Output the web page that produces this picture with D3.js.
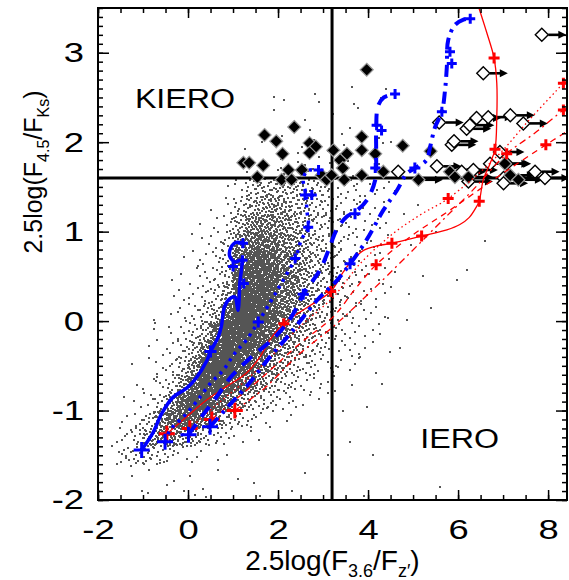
<!DOCTYPE html>
<html><head><meta charset="utf-8">
<script src="https://cdn.jsdelivr.net/npm/d3@7"></script>
<style>body{margin:0;background:#fff}svg{display:block}</style>
</head><body>
<script>
// ---------------- DATA ----------------
const xTickLabels = [-2, 0, 2, 4, 6, 8];
const yTickLabels = [-2, -1, 0, 1, 2, 3];
const xMinorStep = 0.5, yMinorStep = 0.1;
const xCut = 3.2, yCut = 1.6;

// gray field-galaxy cloud: counts per cell (cols x from -1.75 step 0.25; rows y from 2.6 down, step 0.2)
const cloudX0 = -1.75, cloudDX = 0.25, cloudYTop = 2.6, cloudDY = 0.2;
const cloudCounts = [
 [0,0,0,0,0,0,0,0,0,0,0,0,0,0,0,1,0,0,1,0,0,1,0,0,1],
 [0,0,0,0,0,0,0,0,0,0,0,0,0,0,1,0,0,1,0,1,0,0,1,0,0],
 [0,0,0,0,0,0,0,0,0,0,0,0,0,1,0,1,0,1,1,0,1,1,0,1,0],
 [0,0,0,0,0,0,0,0,0,0,0,0,1,0,1,1,1,1,1,1,1,1,1,0,1],
 [0,0,0,0,0,0,0,0,0,0,0,1,1,2,2,2,2,2,2,2,1,2,1,1,1],
 [0,0,0,0,0,0,0,0,0,0,1,4,9,14,16,16,14,12,9,7,5,4,3,3,2],
 [0,0,0,0,0,0,0,0,0,1,3,8,15,22,24,22,18,14,10,7,5,4,3,2,2],
 [0,0,0,0,0,0,0,0,1,2,5,16,30,36,34,28,22,16,11,8,6,4,3,2,2],
 [0,0,0,0,0,0,0,1,2,4,8,26,46,52,44,34,26,18,12,9,6,4,3,2,2],
 [0,0,0,0,0,0,1,2,3,5,10,44,70,72,60,44,30,20,14,10,7,5,3,2,2],
 [0,0,0,0,0,1,1,2,4,6,12,66,90,88,70,50,34,22,15,10,7,5,3,2,2],
 [0,0,0,0,0,1,2,3,6,9,24,90,105,95,72,50,34,22,15,10,7,5,3,2,2],
 [0,0,0,0,1,1,3,5,9,16,55,110,110,92,68,46,32,20,14,9,6,4,3,2,1],
 [0,0,0,1,1,2,4,8,16,48,100,115,100,80,56,38,25,17,11,7,5,3,2,2,1],
 [0,0,0,1,2,3,7,14,36,90,115,105,85,60,40,27,18,12,8,5,4,3,2,1,1],
 [0,0,1,1,3,5,12,30,80,110,105,85,60,40,26,16,11,7,5,3,2,2,1,1,0],
 [0,0,1,2,4,9,24,65,100,95,78,55,36,23,14,9,6,4,3,2,1,1,0,0,0],
 [0,1,2,4,8,22,60,85,78,58,38,24,15,9,6,4,3,2,1,1,0,0,0,0,0],
 [1,2,4,10,30,55,65,55,38,24,14,8,5,3,2,1,1,0,0,0,0,0,0,0,0],
 [1,4,10,22,32,32,25,16,10,6,4,2,1,1,0,0,0,0,0,0,0,0,0,0,0],
 [3,8,10,10,8,5,3,2,1,1,1,0,0,0,0,0,0,0,0,0,0,0,0,0,0],
 [0,1,1,1,1,1,0,1,0,1,0,1,0,0,0,0,0,0,0,0,0,0,0,0,0],
 [0,0,1,0,0,1,0,1,1,0,0,0,1,0,0,0,0,0,0,0,0,0,0,0,0]
];
const cloudOutliers = [[3.34,-0.51],[3.82,-0.40],[4.3,-0.7],[3.97,-0.96],[3.45,-1.0],[4.45,0.03],[4.86,0.01],
 [6.19,0.57],[5.97,0.46],[5.23,0.5],[4.9,0.3],[5.4,0.15],[4.6,0.55],[4.7,-0.3],[3.6,-1.35],[3.1,-1.5],
 [2.6,-1.7],[4.1,-1.5],[5.6,-1.85],[3.9,-1.95],[-0.9,-1.92],[-0.1,-1.9],[0.4,-1.97],[1.6,-1.95],[2.3,-1.9],
 [5.1,1.3],[4.6,1.45],[4.8,1.2],[5.5,1.0],[4.95,0.85],[6.6,0.9],[4.4,2.6],[3.65,2.62],[2.9,2.45],[1.9,2.5],[4.5,2.0]];

// KIERO filled diamonds
const kieroDiamonds = [[2.36,2.17],[1.70,2.08],[1.96,2.01],[2.10,1.87],[1.23,1.77],[1.36,1.77],[1.67,1.74],
 [1.54,1.61],[2.23,1.69],[2.08,1.58],[2.30,1.58],[2.53,1.69],[2.70,1.99],[2.84,1.95],[2.70,1.88],[3.23,1.91],
 [3.53,1.87],[3.38,1.80],[3.44,1.71],[3.47,1.58],[2.97,1.63],[3.08,1.58],[3.19,1.63],[3.86,2.06],[3.86,1.91],
 [3.86,1.63],[4.34,1.67],[4.16,1.87],[3.97,2.81],[4.77,1.96],[5.39,1.90]];
// filled diamonds with lower-limit arrows
const filledLimits = [[5.12,1.58],[5.82,1.67],[5.93,1.61],[6.23,1.61],[7.04,1.76],[7.16,1.63],[7.34,1.58]];
// open diamonds with lower-limit arrows
const openLimits = [[7.86,3.20],[6.56,2.77],[5.58,2.22],[6.41,2.27],[6.67,2.28],[7.16,2.30],[7.45,2.21],
 [6.19,2.15],[6.26,2.19],[5.86,1.97],[5.91,2.01],[6.93,1.89],[7.08,1.76],[5.53,1.73],[6.08,1.67],[6.34,1.69],
 [6.71,1.76],[7.01,1.60],[7.01,1.54],[7.71,1.67],[7.93,1.60],[6.23,1.56]];
const openPlain = [[4.67,1.67]];

// blue model tracks
const blueSolid = [[-1.03,-1.44],[-0.78,-1.25],[-0.58,-1.03],[-0.33,-0.85],[-0.03,-0.75],[0.19,-0.63],[0.42,-0.44],
 [0.50,-0.34],[0.67,-0.18],[0.74,-0.06],[0.81,0.16],[0.93,0.25],[1.04,0.27],[1.11,0.12],[1.15,0.42],[1.18,0.68],
 [1.05,0.66],[0.93,0.72],[0.96,0.83],[1.07,0.88],[1.22,0.87]];
const blueSolidCross = [[-1.03,-1.44,8],[0.50,-0.34,6],[1.22,0.87,5],[1.21,0.68,5],[1.0,0.61,5],[1.24,0.42,5]];
const blueDotted = [[-0.51,-1.35],[-0.4,-1.22],[-0.1,-1.07],[0.19,-0.90],[0.49,-0.70],[0.78,-0.55],[1.04,-0.36],
 [1.3,-0.21],[1.56,-0.01],[1.85,0.23],[2.07,0.42],[2.38,0.70],[2.52,0.91],[2.67,1.05],[2.64,1.24],[2.62,1.42],
 [2.56,1.58],[2.65,1.68],[2.9,1.69]];
const blueDottedCross = [[-0.51,-1.35,8],[1.56,-0.01,5.5],[2.38,0.70,5],[2.67,1.05,5],[2.6,1.41,5],[2.75,1.41,5],[2.9,1.69,5]];
const blueDashed = [[0.01,-1.27],[0.3,-1.07],[0.59,-0.88],[0.96,-0.62],[1.41,-0.40],[1.93,-0.18],[2.3,0.05],
 [2.56,0.30],[2.93,0.57],[3.12,0.79],[3.3,1.02],[3.53,1.17],[3.71,1.22],[3.97,1.35],[4.16,1.58],[4.18,1.85],
 [4.18,2.15],[4.22,2.4],[4.35,2.5],[4.6,2.54]];
const blueDashedCross = [[0.01,-1.27,8],[2.56,0.30,5.5],[3.71,1.2,5.5],[4.16,1.71,5],[4.19,2.19,5],[4.3,2.13,5],[4.6,2.54,5]];
const blueDashDot = [[0.49,-1.18],[0.9,-0.95],[1.35,-0.7],[1.82,-0.40],[2.27,-0.14],[2.86,0.23],[3.3,0.45],
 [3.6,0.64],[3.97,0.91],[4.34,1.24],[4.64,1.46],[4.86,1.65],[5.04,1.71],[5.3,1.8],[5.38,1.95],[5.49,2.17],
 [5.64,2.34],[5.71,2.58],[5.75,2.84],[5.78,3.14],[5.93,3.31],[6.12,3.37],[6.27,3.38]];
const blueDashDotCross = [[0.49,-1.18,8],[3.6,0.64,5.5],[5.04,1.71,5.5],[5.64,2.34,5],[5.82,3.01,5],[5.86,2.88,5],[6.27,3.38,5]];

// red model tracks
const redSolid = [[-0.47,-1.26],[-0.03,-1.07],[0.42,-0.88],[0.86,-0.73],[1.3,-0.58],[1.6,-0.40],[1.82,-0.21],
 [2.13,-0.03],[2.67,0.16],[3.17,0.33],[3.45,0.55],[3.65,0.68],[3.9,0.79],[4.19,0.84],[4.53,0.87],[5.19,0.95],
 [5.75,1.02],[6.04,1.08],[6.25,1.16],[6.41,1.28],[6.47,1.34],[6.56,1.58],[6.71,1.76],[6.82,1.92],[6.86,2.28],
 [6.86,2.66],[6.8,2.94],[6.64,3.22],[6.45,3.52]];
const redSolidCross = [[-0.47,-1.26,8],[2.13,-0.03,5.5],[3.17,0.33,5.5],[4.53,0.87,5.5],[5.19,0.95,5.5],
 [6.47,1.34,5.5],[6.82,1.92,5.5],[6.8,2.94,5.5]];
const redDotted = [[0.04,-1.2],[0.6,-0.95],[1.2,-0.7],[1.8,-0.42],[2.49,-0.06],[3.23,0.27],[3.82,0.64],
 [4.56,0.98],[5.2,1.2],[5.78,1.37],[6.86,1.84],[7.6,2.26],[8.34,2.66],[8.45,2.72]];
const redDottedCross = [[0.04,-1.2,8],[5.78,1.37,5.5],[8.34,2.66,5.5]];
const redDashed = [[0.53,-1.1],[1.0,-0.9],[1.6,-0.65],[2.49,-0.25],[3.23,0.05],[3.7,0.35],[4.18,0.63],
 [4.93,0.94],[5.82,1.24],[6.9,1.62],[7.95,1.97],[8.45,2.13]];
const redDashedCross = [[0.53,-1.1,8],[4.18,0.63,5.5],[7.95,1.97,5.5]];
const redDashDot = [[1.04,-1.0],[1.7,-0.75],[2.49,-0.36],[3.23,-0.06],[4.0,0.3],[4.93,0.76],[5.6,1.1],
 [6.3,1.45],[7.08,1.87],[7.7,2.1],[8.34,2.36],[8.45,2.40]];
const redDashDotCross = [[1.04,-1.0,8],[7.08,1.87,5.5],[8.34,2.36,5.5]];

const regionLabels = [{text:"KIERO", x:-1.18, y:2.38}, {text:"IERO", x:5.16, y:-1.42}];

// ---------------- CHART ----------------
const W = 569, H = 580;
const x = d3.scaleLinear().domain([-2, 8.42]).range([98, 567]);
const y = d3.scaleLinear().domain([-2, 3.5]).range([500, 8]);
const FONT = "'Liberation Sans', Arial, Helvetica, sans-serif";

const svg = d3.select("body").append("svg").attr("width", W).attr("height", H)
  .style("font-family", FONT);
svg.append("defs").append("clipPath").attr("id","clip").append("rect")
  .attr("x", x(-2)).attr("y", y(3.5)).attr("width", x(8.42)-x(-2)).attr("height", y(-2)-y(3.5));
const plot = svg.append("g").attr("clip-path","url(#clip)");

// scatter cloud
function halton(i, b){ let f=1, r=0; while(i>0){ f/=b; r+=f*(i%b); i=Math.floor(i/b);} return r; }
const dots = [];
let idx = 1;
cloudCounts.forEach((row, ri) => {
  const y0 = cloudYTop - cloudDY*(ri+1);
  row.forEach((n, ci) => {
    const x0 = cloudX0 + cloudDX*ci;
    for (let k=0;k<n;k++,idx++) dots.push([x0 + halton(idx,2)*cloudDX, y0 + halton(idx,3)*cloudDY]);
  });
});
cloudOutliers.forEach(d => dots.push(d));
const dp = d3.path();
const ds = 2;
dots.forEach(d => { const px = Math.round(x(d[0])), py = Math.round(y(d[1])); dp.rect(px-1, py-1, ds, ds); });
plot.append("path").attr("d", dp.toString()).attr("fill", "#555").attr("shape-rendering","crispEdges");

// cut lines
plot.append("line").attr("x1", x(-2)).attr("x2", x(8.42)).attr("y1", y(yCut)).attr("y2", y(yCut))
  .attr("stroke","#000").attr("stroke-width",3);
plot.append("line").attr("x1", x(xCut)).attr("x2", x(xCut)).attr("y1", y(-2)).attr("y2", y(3.5))
  .attr("stroke","#000").attr("stroke-width",3);

// diamonds
const R = 6.5;
const diamond = `M0,${-R}L${R},0L0,${R}L${-R},0Z`;
function arrow(g, data){
  g.selectAll(null).data(data).enter().append("path")
    .attr("transform", d => `translate(${x(d[0])},${y(d[1])})`)
    .attr("d", `M${R},0H${R+12}`).attr("stroke","#000").attr("stroke-width",2.6).attr("fill","none");
  g.selectAll(null).data(data).enter().append("path")
    .attr("transform", d => `translate(${x(d[0])},${y(d[1])})`)
    .attr("d", `M${R+10},-4L${R+18},0L${R+10},4Z`).attr("fill","#000");
}
const gd = plot.append("g");
arrow(gd, openLimits);
arrow(gd, filledLimits);
gd.selectAll(null).data(openLimits.concat(openPlain)).enter().append("path")
  .attr("transform", d => `translate(${x(d[0])},${y(d[1])})`).attr("d", diamond)
  .attr("fill","#fff").attr("stroke","#000").attr("stroke-width",1.4);
gd.selectAll(null).data(kieroDiamonds.concat(filledLimits)).enter().append("path")
  .attr("transform", d => `translate(${x(d[0])},${y(d[1])})`).attr("d", diamond)
  .attr("fill","#000").attr("stroke","#999").attr("stroke-width",1.2);

// tracks
const line = d3.line().x(d => x(d[0])).y(d => y(d[1])).curve(d3.curveCatmullRom.alpha(0.5));
const tracks = [
  {pts: redSolid, cr: redSolidCross, c:"#ff0000", w:1.3, dash:null, cw:3},
  {pts: redDotted, cr: redDottedCross, c:"#ff0000", w:1.3, dash:"1.5,3", cw:3},
  {pts: redDashed, cr: redDashedCross, c:"#ff0000", w:1.3, dash:"6,5", cw:3},
  {pts: redDashDot, cr: redDashDotCross, c:"#ff0000", w:1.3, dash:"7,4,2,4", cw:3},
  {pts: blueSolid, cr: blueSolidCross, c:"#0000ff", w:3.5, dash:null, cw:3},
  {pts: blueDotted, cr: blueDottedCross, c:"#0000ff", w:3.5, dash:"3,5", cw:3},
  {pts: blueDashed, cr: blueDashedCross, c:"#0000ff", w:4, dash:"13,9", cw:3},
  {pts: blueDashDot, cr: blueDashDotCross, c:"#0000ff", w:4, dash:"12,6,3,6", cw:3}
];
tracks.forEach(t => {
  plot.append("path").attr("d", line(t.pts)).attr("fill","none").attr("stroke", t.c)
    .attr("stroke-width", t.w).attr("stroke-dasharray", t.dash);
  plot.selectAll(null).data(t.cr).enter().append("path")
    .attr("transform", d => `translate(${x(d[0])},${y(d[1])})`)
    .attr("d", d => `M${-d[2]},0H${d[2]}M0,${-d[2]}V${d[2]}`)
    .attr("stroke", t.c).attr("stroke-width", t.cw).attr("fill","none");
});

// region labels
svg.selectAll(null).data(regionLabels).enter().append("text")
  .attr("transform", d => `translate(${x(d.x)},${y(d.y)}) scale(1.15,1)`)
  .attr("font-size", 28).text(d => d.text);

// axes
const TS = 1.3; // tick label horizontal stretch
const xMinor = d3.range(-2, 8.42 + 1e-9, xMinorStep);
const yMinor = d3.range(-2, 3.5 + 1e-9, yMinorStep).map(v => +v.toFixed(2));
function styleAxis(g){ g.select(".domain").remove(); g.selectAll("line").attr("stroke","#000").attr("stroke-width",1.5); }
const fmt = d => String(d);

svg.append("g").attr("transform", `translate(0,${y(-2)})`)
  .call(d3.axisBottom(x).tickValues(xMinor).tickSize(-5).tickFormat("")).call(styleAxis);
const bx = svg.append("g").attr("transform", `translate(0,${y(-2)})`)
  .call(d3.axisBottom(x).tickValues(xTickLabels).tickSize(-10).tickPadding(19).tickFormat(fmt)).call(styleAxis);
bx.selectAll("text").attr("font-size",28).attr("font-family",FONT).attr("fill","#000")
  .attr("transform", `scale(${TS},1)`);

svg.append("g").attr("transform", `translate(0,${y(3.5)})`)
  .call(d3.axisTop(x).tickValues(xMinor).tickSize(-5).tickFormat("")).call(styleAxis);
svg.append("g").attr("transform", `translate(0,${y(3.5)})`)
  .call(d3.axisTop(x).tickValues(xTickLabels).tickSize(-10).tickFormat("")).call(styleAxis);

svg.append("g").attr("transform", `translate(${x(-2)},0)`)
  .call(d3.axisLeft(y).tickValues(yMinor).tickSize(-5).tickFormat("")).call(styleAxis);
const ly = svg.append("g").attr("transform", `translate(${x(-2)},0)`)
  .call(d3.axisLeft(y).tickValues(yTickLabels).tickSize(-11).tickPadding(14).tickFormat(fmt)).call(styleAxis);
ly.selectAll("text").attr("font-size",28).attr("font-family",FONT).attr("fill","#000")
  .attr("x", -14/TS).attr("transform", `scale(${TS},1)`);

svg.append("g").attr("transform", `translate(${x(8.42)},0)`)
  .call(d3.axisRight(y).tickValues(yMinor).tickSize(-5).tickFormat("")).call(styleAxis);
svg.append("g").attr("transform", `translate(${x(8.42)},0)`)
  .call(d3.axisRight(y).tickValues(yTickLabels).tickSize(-11).tickFormat("")).call(styleAxis);

// frame
svg.append("rect").attr("x", x(-2)).attr("y", y(3.5)).attr("width", x(8.42)-x(-2)).attr("height", y(-2)-y(3.5))
  .attr("fill","none").attr("stroke","#000").attr("stroke-width",2);

// axis titles
const xt = svg.append("text").attr("x", (x(-2)+x(8.42))/2).attr("y", 570).attr("text-anchor","middle")
  .attr("font-size", 28).attr("fill","#000");
xt.append("tspan").text("2.5log(F");
xt.append("tspan").attr("font-size",18).attr("dy",7).text("3.6");
xt.append("tspan").attr("dy",-7).text("/F");
xt.append("tspan").attr("font-size",18).attr("dy",7).text("z\u2032");
xt.append("tspan").attr("dy",-7).text(")");

const yt = svg.append("text").attr("transform", `translate(42,172) rotate(-90)`).attr("text-anchor","middle")
  .attr("font-size", 25).attr("fill","#000");
yt.append("tspan").text("2.5log(F");
yt.append("tspan").attr("font-size",16).attr("dy",7).text("4.5");
yt.append("tspan").attr("dy",-7).text("/F");
yt.append("tspan").attr("font-size",16).attr("dy",7).text("Ks");
yt.append("tspan").attr("dy",-7).text(")");
</script>
</body></html>
